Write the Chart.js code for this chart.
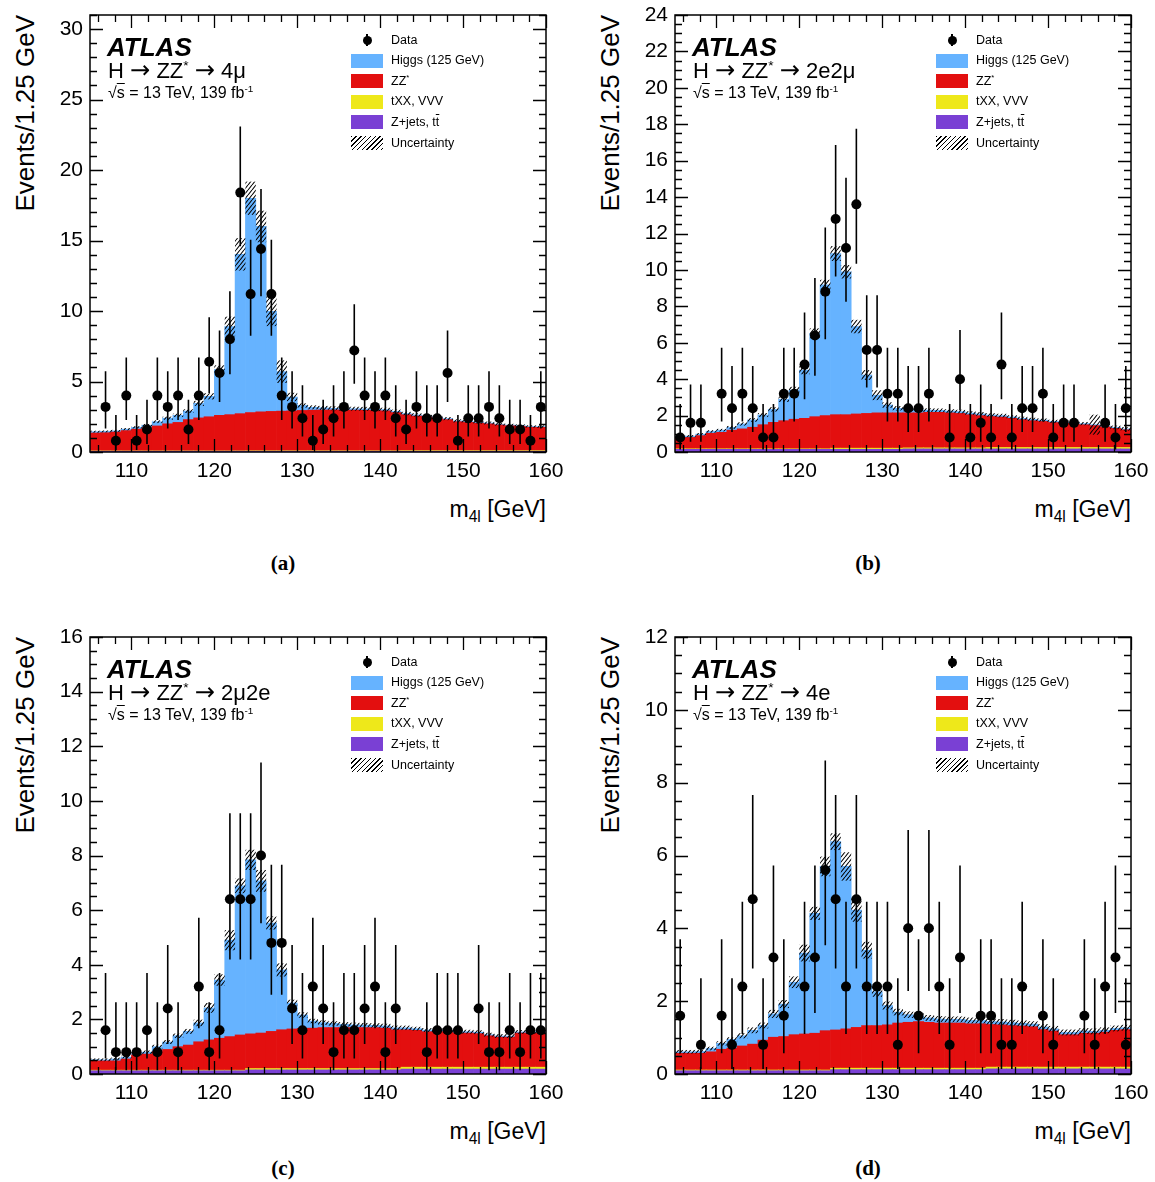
<!DOCTYPE html>
<html><head><meta charset="utf-8"><title>H to ZZ* to 4l, m4l distributions</title>
<script src="https://cdn.jsdelivr.net/npm/chart.js@4.4.1/dist/chart.umd.min.js"></script>
<style>
html,body{margin:0;padding:0;background:#fff;}
body{width:1155px;height:1182px;position:relative;overflow:hidden;font-family:"Liberation Sans",Arial,Helvetica,sans-serif;color:#000;}
canvas{position:absolute;}
.t{position:absolute;white-space:nowrap;line-height:1;color:#000;}
.t sup{font-size:0.62em;line-height:0;vertical-align:0.6em;}
.t sub{font-size:0.68em;line-height:0;vertical-align:-0.35em;}
.t .ar{font-family:"DejaVu Sans",sans-serif;font-size:1.1em;line-height:0;}
.sw{position:absolute;}
</style></head><body>
<script>
// ---------------- data ----------------
const binWidth = 1.25;
const binCenters = [105.625,106.875,108.125,109.375,110.625,111.875,113.125,114.375,115.625,116.875,
  118.125,119.375,120.625,121.875,123.125,124.375,125.625,126.875,128.125,129.375,
  130.625,131.875,133.125,134.375,135.625,136.875,138.125,139.375,140.625,141.875,
  143.125,144.375,145.625,146.875,148.125,149.375,150.625,151.875,153.125,154.375,
  155.625,156.875,158.125,159.375];
const xTickValues = [110,120,130,140,150,160];

const panelLabels = ['(a)','(b)','(c)','(d)'];
const channelLabels = ['4μ','2e2μ','2μ2e','4e'];
const yMaxValues = [31,24,16,12];
const yMajorSteps = [5,2,2,2];
const yMinorSteps = [1,0.5,0.5,0.5];

// (a) 4mu
const dataA = [0,3.2,0.8,4.0,0.8,1.6,4.0,3.2,4.0,1.6, 4.0,6.4,5.6,8.0,18.4,11.2,14.4,11.2,4.0,3.2, 2.4,0.8,1.6,2.4,3.2,7.2,4.0,3.2,4.0,2.4, 1.6,3.2,2.4,2.4,5.6,0.8,2.4,2.4,3.2,2.4, 1.6,1.6,0.8,3.2];
const higgsA = [0.09,0.09,0.08,0.1,0.13,0.18,0.3,0.4,0.5,0.6, 1.03,1.45,3.25,6.25,11.3,15.2,13.15,7.1,2.8,0.98, 0.35,0.2,0.15,0.12,0.11,0.1,0.1,0.09,0.09,0.08, 0.08,0.08,0.07,0.07,0.07,0.06,0.06,0.06,0.06,0.05, 0.05,0.05,0.05,0.05];
const zzA = [1.27,1.29,1.34,1.44,1.54,1.64,1.77,1.92,2.02,2.22, 2.34,2.42,2.52,2.57,2.64,2.71,2.76,2.79,2.81,2.83, 2.86,2.88,2.89,2.89,2.88,2.88,2.87,2.86,2.83,2.71, 2.55,2.45,2.38,2.30,2.20,2.05,2.00,1.95,1.90,1.82, 1.76,1.72,1.66,1.65];
const txxA = [0.02,0.02,0.02,0.02,0.02,0.02,0.02,0.02,0.02,0.02, 0.02,0.02,0.02,0.02,0.02,0.03,0.03,0.03,0.03,0.03, 0.03,0.03,0.03,0.03,0.03,0.03,0.03,0.03,0.03,0.03, 0.04,0.04,0.04,0.04,0.04,0.04,0.04,0.04,0.04,0.04, 0.04,0.04,0.04,0.04];
const zjetsA = [0.06,0.06,0.06,0.06,0.06,0.06,0.06,0.06,0.06,0.06, 0.06,0.06,0.06,0.06,0.06,0.06,0.06,0.06,0.06,0.06, 0.06,0.06,0.06,0.06,0.06,0.06,0.06,0.06,0.06,0.06, 0.06,0.06,0.06,0.06,0.06,0.06,0.06,0.06,0.06,0.06, 0.06,0.06,0.06,0.06];
const uncA = [0.07,0.07,0.07,0.08,0.08,0.09,0.1,0.11,0.12,0.13, 0.18,0.22,0.3,0.7,1.15,1.18,1.12,1.05,0.8,0.3, 0.15,0.14,0.14,0.14,0.14,0.14,0.14,0.14,0.13,0.13, 0.12,0.12,0.12,0.11,0.11,0.11,0.1,0.1,0.1,0.1, 0.09,0.09,0.09,0.09];

// (b) 2e2mu
const dataB = [0.8,1.6,1.6,0,3.2,2.4,3.2,2.4,0.8,0.8, 3.2,3.2,4.8,6.4,8.8,12.8,11.2,13.6,5.6,5.6, 3.2,3.2,2.4,2.4,3.2,0,0.8,4.0,0.8,1.6, 0.8,4.8,0.8,2.4,2.4,3.2,0.8,1.6,1.6,0, 0,1.6,0.8,2.4];
const higgsB = [0.05,0.07,0.08,0.1,0.12,0.15,0.27,0.4,0.53,0.71, 1.18,1.6,2.65,4.58,7.18,8.85,7.85,4.8,2.11,0.97, 0.43,0.25,0.2,0.15,0.12,0.11,0.1,0.1,0.09,0.09, 0.08,0.08,0.08,0.07,0.07,0.07,0.06,0.06,0.06,0.06, 0.05,0.05,0.05,0.05];
const zzB = [0.57,0.62,0.72,0.85,0.90,1.02,1.09,1.18,1.32,1.45, 1.54,1.62,1.67,1.76,1.82,1.84,1.84,1.88,1.91,1.94, 1.94,1.94,1.92,1.92,1.95,1.95,1.92,1.89,1.82,1.77, 1.70,1.67,1.60,1.53,1.47,1.43,1.37,1.33,1.30,1.25, 1.20,1.13,1.05,0.97];
const txxB = [0.03,0.03,0.03,0.03,0.03,0.03,0.03,0.03,0.03,0.03, 0.03,0.03,0.03,0.03,0.03,0.06,0.06,0.06,0.06,0.06, 0.06,0.06,0.06,0.06,0.06,0.06,0.06,0.06,0.06,0.06, 0.08,0.08,0.08,0.08,0.08,0.08,0.08,0.08,0.08,0.08, 0.08,0.08,0.08,0.08];
const zjetsB = [0.15,0.15,0.15,0.15,0.15,0.15,0.15,0.15,0.15,0.15, 0.15,0.15,0.15,0.15,0.15,0.15,0.15,0.15,0.15,0.15, 0.15,0.15,0.17,0.17,0.17,0.17,0.17,0.17,0.17,0.17, 0.17,0.17,0.17,0.17,0.17,0.17,0.17,0.17,0.17,0.17, 0.17,0.17,0.17,0.17];
const uncB = [0.06,0.06,0.06,0.07,0.07,0.08,0.09,0.1,0.11,0.12, 0.15,0.18,0.23,0.27,0.28,0.41,0.37,0.37,0.27,0.27, 0.15,0.12,0.11,0.1,0.1,0.1,0.1,0.1,0.1,0.1, 0.1,0.1,0.09,0.09,0.09,0.09,0.09,0.09,0.09,0.09, 0.55,0.12,0.1,0.1];

// (c) 2mu2e
const dataC = [0,1.6,0.8,0.8,0.8,1.6,0.8,2.4,0.8,0, 3.2,0.8,1.6,6.4,6.4,6.4,8.0,4.8,4.8,2.4, 1.6,3.2,2.4,0.8,1.6,1.6,2.4,3.2,0.8,2.4, 0,0,0.8,1.6,1.6,1.6,0,2.4,0.8,0.8, 1.6,0.8,1.6,1.6];
const higgsC = [0.04,0.04,0.07,0.07,0.05,0.07,0.18,0.27,0.4,0.5, 0.69,1.17,2.13,3.53,5.46,6.37,5.57,3.97,2.19,0.95, 0.49,0.26,0.18,0.15,0.12,0.1,0.09,0.08,0.08,0.07, 0.07,0.06,0.06,0.06,0.05,0.05,0.05,0.05,0.04,0.04, 0.04,0.04,0.04,0.04];
const zzC = [0.34,0.34,0.34,0.41,0.56,0.59,0.68,0.76,0.86,0.92, 1.04,1.11,1.17,1.23,1.29,1.27,1.30,1.36,1.42,1.45, 1.47,1.48,1.50,1.50,1.50,1.50,1.50,1.50,1.48,1.42, 1.37,1.35,1.30,1.30,1.30,1.25,1.25,1.23,1.15,1.10, 1.10,1.25,1.25,1.25];
const txxC = [0.02,0.02,0.02,0.02,0.02,0.02,0.02,0.02,0.02,0.02, 0.02,0.02,0.02,0.02,0.02,0.05,0.05,0.05,0.05,0.05, 0.05,0.05,0.05,0.05,0.05,0.05,0.05,0.05,0.05,0.05, 0.07,0.07,0.07,0.07,0.07,0.07,0.07,0.07,0.07,0.07, 0.07,0.07,0.07,0.07];
const zjetsC = [0.12,0.12,0.12,0.12,0.12,0.12,0.12,0.12,0.12,0.12, 0.12,0.12,0.12,0.12,0.12,0.15,0.15,0.15,0.15,0.15, 0.15,0.15,0.15,0.15,0.15,0.15,0.15,0.15,0.15,0.15, 0.18,0.18,0.18,0.18,0.18,0.18,0.18,0.18,0.18,0.18, 0.18,0.18,0.18,0.18];
const uncC = [0.05,0.05,0.05,0.05,0.06,0.06,0.07,0.07,0.08,0.09, 0.12,0.18,0.21,0.37,0.27,0.37,0.4,0.24,0.24,0.12, 0.1,0.08,0.08,0.08,0.08,0.08,0.08,0.08,0.08,0.08, 0.08,0.07,0.07,0.07,0.07,0.07,0.07,0.07,0.07,0.07, 0.07,0.07,0.07,0.07];

// (d) 4e
const dataD = [1.6,0,0.8,0,1.6,0.8,2.4,4.8,0.8,3.2, 1.6,0,2.4,3.2,5.6,4.8,2.4,4.8,2.4,2.4, 2.4,0.8,4.0,1.6,4.0,2.4,0.8,3.2,0,1.6, 1.6,0.8,0.8,2.4,0,1.6,0.8,0,0,1.6, 0.8,2.4,3.2,0.8];
const higgsD = [0.04,0.04,0.05,0.09,0.16,0.24,0.28,0.38,0.4,0.64, 0.89,1.44,2.22,3.29,4.51,5.17,4.46,3.22,2.07,0.93, 0.53,0.3,0.21,0.15,0.12,0.11,0.1,0.1,0.09,0.09, 0.08,0.08,0.08,0.07,0.07,0.07,0.06,0.06,0.06,0.06, 0.05,0.05,0.05,0.05];
const zzD = [0.46,0.46,0.46,0.50,0.57,0.60,0.66,0.71,0.82,0.90, 0.92,0.97,0.99,1.01,1.08,1.05,1.08,1.12,1.17,1.17, 1.19,1.24,1.26,1.28,1.26,1.24,1.24,1.24,1.22,1.22, 1.17,1.16,1.14,1.13,1.11,1.03,0.99,0.89,0.89,0.93, 0.93,0.96,1.01,1.03];
const txxD = [0.02,0.02,0.02,0.02,0.02,0.02,0.02,0.02,0.02,0.02, 0.02,0.02,0.02,0.02,0.02,0.04,0.04,0.04,0.04,0.04, 0.04,0.04,0.04,0.04,0.04,0.04,0.04,0.04,0.04,0.04, 0.05,0.05,0.05,0.05,0.05,0.05,0.05,0.05,0.05,0.05, 0.05,0.05,0.05,0.05];
const zjetsD = [0.09,0.09,0.09,0.09,0.09,0.09,0.09,0.09,0.09,0.09, 0.09,0.09,0.09,0.09,0.09,0.12,0.12,0.12,0.12,0.12, 0.12,0.12,0.12,0.12,0.12,0.12,0.12,0.12,0.12,0.12, 0.14,0.14,0.14,0.14,0.14,0.14,0.14,0.14,0.14,0.14, 0.14,0.14,0.14,0.14];
const uncD = [0.05,0.05,0.05,0.05,0.06,0.06,0.07,0.08,0.08,0.11, 0.11,0.16,0.23,0.18,0.27,0.23,0.39,0.32,0.23,0.14, 0.11,0.09,0.09,0.08,0.08,0.08,0.08,0.08,0.08,0.08, 0.08,0.08,0.08,0.08,0.08,0.08,0.08,0.08,0.08,0.08, 0.08,0.08,0.08,0.08];

// ---------------- style / layout ----------------
const COL = {higgs:'#66b3ff', zz:'#e30f0f', txx:'#eee81a', zjets:'#7a40d4'};
const FONT = '"Liberation Sans", Arial, Helvetica, sans-serif';
const PLOT_W = 456, PLOT_H = 437;
const PAD_L = 50, PAD_T = 20, PAD_R = 25, PAD_B = 40;
const origins = [[90,15],[675,15],[90,637],[675,637]];
const captionY = [563,563,1168,1168];

const series = [
  {data:dataA, higgs:higgsA, zz:zzA, txx:txxA, zjets:zjetsA, unc:uncA},
  {data:dataB, higgs:higgsB, zz:zzB, txx:txxB, zjets:zjetsB, unc:uncB},
  {data:dataC, higgs:higgsC, zz:zzC, txx:txxC, zjets:zjetsC, unc:uncC},
  {data:dataD, higgs:higgsD, zz:zzD, txx:txxD, zjets:zjetsD, unc:uncD}
];

function makeHatch(){
  const c = document.createElement('canvas'); c.width = 4; c.height = 5;
  const g = c.getContext('2d');
  g.strokeStyle = '#000'; g.lineWidth = 1.05;
  g.beginPath();
  for (const o of [-4,0,4]) { g.moveTo(o,5); g.lineTo(o+4,0); }
  g.stroke();
  return c;
}
const hatchTile = makeHatch();

function poissonInterval(n){
  const up = (n+1)*Math.pow(1 - 1/(9*(n+1)) + 1/(3*Math.sqrt(n+1)), 3);
  const lo = n > 0 ? n*Math.pow(1 - 1/(9*n) - 1/(3*Math.sqrt(n)), 3) : 0;
  return [lo, up];
}

const panelOf = new WeakMap();

const atlasPlugin = {
  id: 'atlasDeco',
  beforeDatasetDraw(chart, args){
    if (args.index !== 0) return;
    const k = panelOf.get(chart.canvas); const s = series[k];
    const xs = chart.scales.x, ys = chart.scales.y, y2 = chart.scales.y2;
    const ctx = chart.ctx, a = chart.chartArea;
    ctx.save();
    ctx.beginPath(); ctx.rect(a.left, a.top, a.right-a.left, a.bottom-a.top); ctx.clip();
    // uncertainty band (hatched)
    ctx.fillStyle = ctx.createPattern(hatchTile, 'repeat');
    for (let i = 0; i < binCenters.length; i++) {
      const tot = s.zjets[i] + s.txx[i] + s.zz[i] + s.higgs[i];
      const xl = xs.getPixelForValue(binCenters[i] - binWidth/2);
      const xr = xs.getPixelForValue(binCenters[i] + binWidth/2);
      const yt = ys.getPixelForValue(tot + s.unc[i]);
      const yb = ys.getPixelForValue(tot - s.unc[i]);
      ctx.fillRect(xl, yt, xr-xl, yb-yt);
    }
    // data error bars
    ctx.strokeStyle = '#000'; ctx.lineWidth = 1.6;
    ctx.beginPath();
    for (let i = 0; i < binCenters.length; i++) {
      const v = s.data[i];
      if (!(v > 0)) continue;
      const n = Math.round(v*binWidth);
      const [lo, up] = poissonInterval(n);
      const px = xs.getPixelForValue(binCenters[i]);
      ctx.moveTo(px, y2.getPixelForValue(lo/binWidth));
      ctx.lineTo(px, y2.getPixelForValue(up/binWidth));
    }
    ctx.stroke();
    ctx.restore();
  },
  afterDraw(chart){
    const k = panelOf.get(chart.canvas);
    const xs = chart.scales.x, ys = chart.scales.y;
    const ctx = chart.ctx, a = chart.chartArea;
    ctx.save();
    ctx.strokeStyle = '#000'; ctx.lineWidth = 1.3;
    ctx.beginPath();
    const MAJ = 13, MIN = 7;
    for (let v = 106; v <= 160; v += 2) {
      const px = Math.round(xs.getPixelForValue(v)) + 0.5;
      const L = xTickValues.includes(v) ? MAJ : MIN;
      ctx.moveTo(px, a.bottom); ctx.lineTo(px, a.bottom - L);
      ctx.moveTo(px, a.top); ctx.lineTo(px, a.top + L);
    }
    const ymax = yMaxValues[k], st = yMajorSteps[k], mn = yMinorSteps[k];
    for (let j = 0; j*mn <= ymax + 1e-9; j++) {
      const v = j*mn;
      const py = Math.round(ys.getPixelForValue(v)) + 0.5;
      const r = v/st;
      const L = Math.abs(r - Math.round(r)) < 1e-6 ? MAJ : MIN;
      ctx.moveTo(a.left, py); ctx.lineTo(a.left + L, py);
      ctx.moveTo(a.right, py); ctx.lineTo(a.right - L, py);
    }
    ctx.stroke();
    ctx.lineWidth = 1.5;
    ctx.strokeRect(a.left, a.top, a.right - a.left, a.bottom - a.top);
    ctx.restore();
  }
};

function addText(html, left, top, css){
  const d = document.createElement('div');
  d.className = 't'; d.innerHTML = html;
  d.style.left = left + 'px'; d.style.top = top + 'px';
  if (css) d.style.cssText += css;
  document.body.appendChild(d);
  return d;
}
function addBox(left, top, w, h, css){
  const d = document.createElement('div');
  d.className = 'sw';
  d.style.cssText = `left:${left}px;top:${top}px;width:${w}px;height:${h}px;` + css;
  document.body.appendChild(d);
  return d;
}

const tickFont = {family: FONT, size: 21};

function buildPanel(k){
  const [ox, oy] = origins[k];
  const s = series[k];
  const cv = document.createElement('canvas');
  const W = PAD_L + PLOT_W + PAD_R, H = PAD_T + PLOT_H + PAD_B;
  cv.width = W; cv.height = H;
  cv.style.left = (ox - PAD_L) + 'px'; cv.style.top = (oy - PAD_T) + 'px';
  cv.style.width = W + 'px'; cv.style.height = H + 'px';
  document.body.appendChild(cv);
  panelOf.set(cv, k);

  const pts = arr => binCenters.map((x, i) => ({x, y: arr[i]}));
  const barDefaults = {type:'bar', yAxisID:'y', stack:'mc', barPercentage:1, categoryPercentage:1, borderWidth:0, borderSkipped:false};
  new Chart(cv, {
    type: 'bar',
    data: {
      datasets: [
        {type:'scatter', label:'Data', yAxisID:'y2',
         data: binCenters.map((x, i) => ({x, y: s.data[i] > 0 ? s.data[i] : null})),
         pointRadius:5, pointHoverRadius:5, pointBackgroundColor:'#000', pointBorderWidth:0, backgroundColor:'#000', borderColor:'#000'},
        Object.assign({label:'Z+jets, tt̄', data: pts(s.zjets), backgroundColor: COL.zjets}, barDefaults),
        Object.assign({label:'tXX, VVV', data: pts(s.txx), backgroundColor: COL.txx}, barDefaults),
        Object.assign({label:'ZZ*', data: pts(s.zz), backgroundColor: COL.zz}, barDefaults),
        Object.assign({label:'Higgs (125 GeV)', data: pts(s.higgs), backgroundColor: COL.higgs}, barDefaults)
      ]
    },
    options: {
      responsive:false, animation:false, devicePixelRatio:1, events:[],
      layout:{padding:{left:0, top:PAD_T, right:PAD_R, bottom:0}},
      plugins:{legend:{display:false}, tooltip:{enabled:false}},
      scales:{
        x:{type:'linear', min:105, max:160, stacked:true, offset:false,
           ticks:{stepSize:10, includeBounds:false, font:tickFont, color:'#000', padding:7, maxRotation:0, autoSkip:false},
           grid:{display:false, drawTicks:false, offset:false}, border:{display:false},
           afterFit: sc => { sc.height = PAD_B; }},
        y:{type:'linear', min:0, max:yMaxValues[k], stacked:true,
           ticks:{stepSize:yMajorSteps[k], includeBounds:false, font:tickFont, color:'#000', padding:7},
           grid:{display:false, drawTicks:false}, border:{display:false},
           afterFit: sc => { sc.width = PAD_L; }},
        y2:{type:'linear', display:false, min:0, max:yMaxValues[k], stacked:false}
      }
    },
    plugins:[atlasPlugin]
  });

  // ATLAS labels
  addText('ATLAS', ox + 17, oy + 19, 'font-size:26px;font-weight:bold;font-style:italic;');
  addText('H <span class="ar">→</span> ZZ<sup>*</sup> <span class="ar">→</span> ' + channelLabels[k], ox + 18, oy + 45.4, 'font-size:22px;');
  addText('√<span style="text-decoration:overline">s</span> = 13 TeV, 139 fb<sup>-1</sup>', ox + 18, oy + 69.5, 'font-size:16px;');

  // legend
  const legendItems = [
    {html:'Data', kind:'data'},
    {html:'Higgs (125 GeV)', color:COL.higgs},
    {html:'ZZ<sup>*</sup>', color:COL.zz},
    {html:'tXX, VVV', color:COL.txx},
    {html:'Z+jets, t<span style="text-decoration:overline">t</span>', color:COL.zjets},
    {html:'Uncertainty', kind:'hatch'}
  ];
  legendItems.forEach((it, j) => {
    const cy = oy + 25 + 20.55*j;
    if (it.kind === 'data') {
      addBox(ox + 276.2, cy - 6, 1.6, 12, 'background:#000;');
      addBox(ox + 272.5, cy - 4.5, 9, 9, 'background:#000;border-radius:50%;');
    } else if (it.kind === 'hatch') {
      addBox(ox + 261, cy - 7, 32, 14, 'background:repeating-linear-gradient(135deg,#000 0 1px,transparent 1px 3.4px);');
    } else {
      addBox(ox + 261, cy - 7, 32, 14, 'background:' + it.color + ';');
    }
    addText(it.html, ox + 301, cy - 6.2, 'font-size:12.5px;');
  });

  // axis titles
  addText('m<sub>4l</sub> [GeV]', ox + PLOT_W - 200, oy + 482.8, 'font-size:23px;width:200px;text-align:right;');
  addText('Events/1.25 GeV', ox - 78.5, oy + 250, 'font-size:26px;width:250px;text-align:right;transform-origin:0 0;transform:rotate(-90deg);');
  // caption
  addText(panelLabels[k], ox + 193 - 30, captionY[k] - 10.5, 'font-family:"Liberation Serif","Times New Roman",serif;font-weight:bold;font-size:21px;width:60px;text-align:center;');
}

for (let k = 0; k < 4; k++) buildPanel(k);
</script>
</body></html>
